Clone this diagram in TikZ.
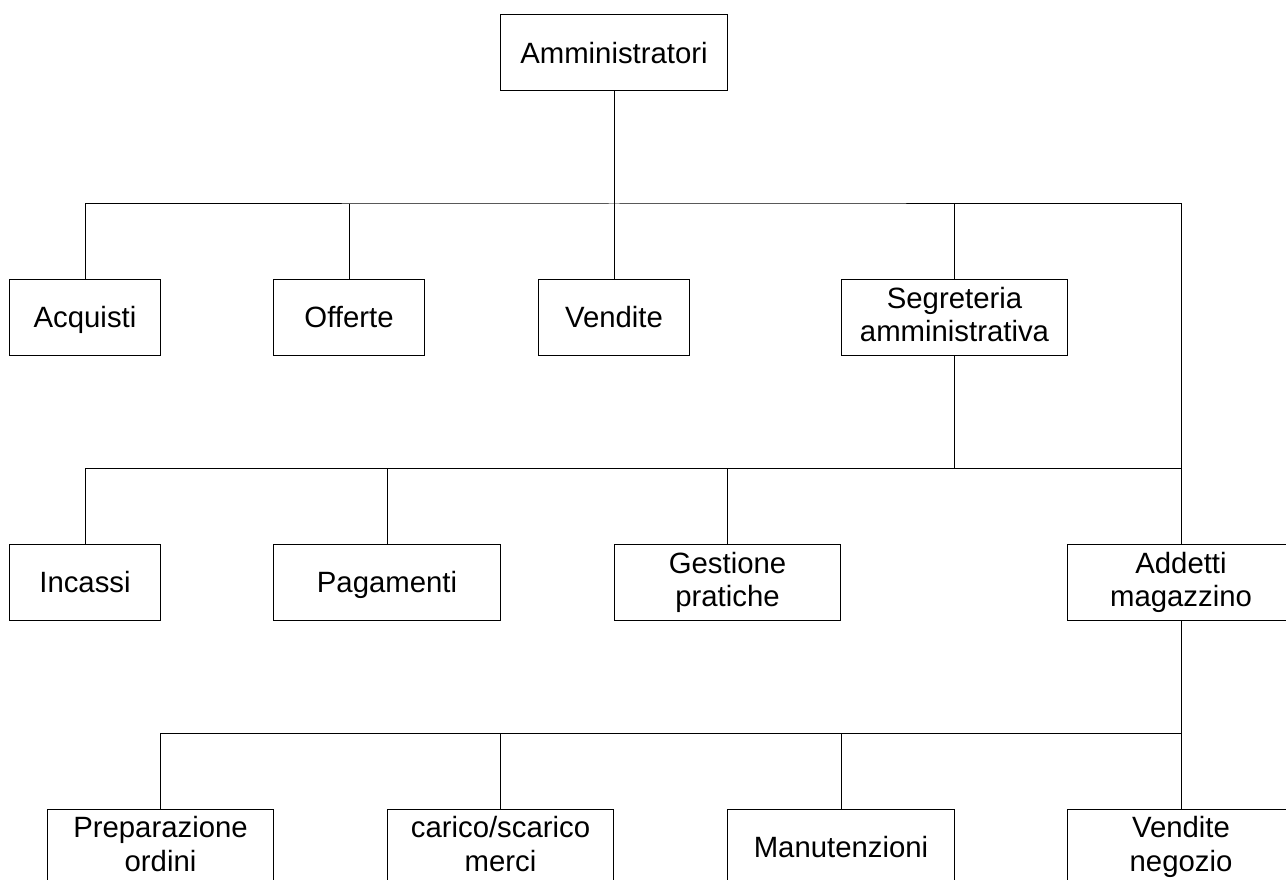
\documentclass[tikz,border=0pt]{standalone}
\usepackage{fontspec}
\setmainfont{Liberation Sans}

\tikzset{
  box/.style={draw, line width=0.75pt, align=center, inner sep=0pt,
    minimum height=57pt, font=\fontsize{22pt}{25pt}\selectfont,
    execute at begin node=\rule{0pt}{20pt}, execute at end node=\vphantom{g}},
  smallbox/.style={box, minimum width=113pt},
  widebox/.style={box, minimum width=170pt},
  wire/.style={line width=0.75pt}
}

\begin{document}
\begin{tikzpicture}[x=0.75pt,y=-0.75pt]

    \useasboundingbox (0,0) rectangle (1286,880);
    \clip (0,0) rectangle (1286,880);

    %top
    \node[widebox] (admin) at (614,53) {Amministratori};

    %first row
    \node[smallbox] (acquisti) at (85,317.5) {Acquisti};
    \node[smallbox] (offerte) at (349,317.5) {Offerte};
    \node[smallbox] (vendite) at (614,317.5) {Vendite};
    \node[widebox] (segreteria) at (954.5,317.5) {Segreteria\\amministrativa};

    %second row
    \node[smallbox] (incassi) at (85,582.5) {Incassi};
    \node[widebox] (pagamenti) at (387,582.5) {Pagamenti};
    \node[widebox] (gestione) at (727.5,582.5) {Gestione\\pratiche};
    \node[widebox] (addetti) at (1181,582.5) {Addetti\\magazzino};

    %third row
    \node[widebox] (preparazione) at (160.5,847) {Preparazione\\ordini};
    \node[widebox] (carico) at (500.5,847) {carico/scarico\\merci};
    \node[widebox] (manutenzioni) at (841,847) {Manutenzioni};
    \node[widebox] (negozio) at (1181,847) {Vendite\\negozio};

    %junctions
    \coordinate (bus1) at (614,204);
    \coordinate (bus2) at (954.5,469);
    \coordinate (bus3) at (1181,733);

    %links to first row
    \draw[wire] (admin) -- (vendite);
    \draw[wire] (acquisti) |- (bus1) -| (addetti);
    \draw[wire] (offerte) -- (offerte |- bus1);
    \draw[wire] (segreteria) -- (segreteria |- bus1);

    %links to second row
    \draw[wire] (segreteria) -- (bus2);
    \draw[wire] (incassi) |- (addetti |- bus2);
    \draw[wire] (pagamenti) -- (pagamenti |- bus2);
    \draw[wire] (gestione) -- (gestione |- bus2);

    %links to third row
    \draw[wire] (addetti) -- (negozio);
    \draw[wire] (preparazione) |- (bus3);
    \draw[wire] (carico) -- (carico |- bus3);
    \draw[wire] (manutenzioni) -- (manutenzioni |- bus3);

\end{tikzpicture}
\end{document}
